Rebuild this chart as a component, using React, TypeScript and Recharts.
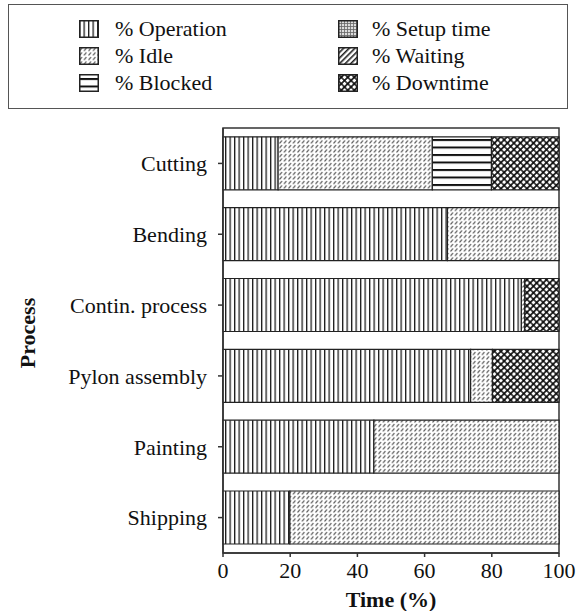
import { BarChart, Bar, XAxis, YAxis, ReferenceArea } from 'recharts';

const processes = ['Cutting', 'Bending', 'Contin. process', 'Pylon assembly', 'Painting', 'Shipping'];
const operation = [16.4, 66.8, 88.8, 73.7, 44.9, 19.9];
const setupTime = [0, 0, 0, 0, 0, 0];
const idle = [45.9, 33.2, 1.0, 6.5, 55.1, 80.1];
const waiting = [0, 0, 0, 0, 0, 0];
const blocked = [17.6, 0, 0, 0, 0, 0];
const downtime = [20.1, 0, 10.2, 19.8, 0, 0];
const timeTicks = [0, 20, 40, 60, 80, 100];

const data = processes.map((name, i) => ({
  name,
  operation: operation[i],
  setup: setupTime[i],
  idle: idle[i],
  waiting: waiting[i],
  blocked: blocked[i],
  downtime: downtime[i],
}));

// legend is laid out row by row: left column then right column
const series = [
  { key: 'operation', label: '% Operation', fill: 'url(#pOp)' },
  { key: 'setup', label: '% Setup time', fill: 'url(#pSetup)' },
  { key: 'idle', label: '% Idle', fill: 'url(#pIdle)' },
  { key: 'waiting', label: '% Waiting', fill: 'url(#pWait)' },
  { key: 'blocked', label: '% Blocked', fill: 'url(#pBlk)' },
  { key: 'downtime', label: '% Downtime', fill: 'url(#pDown)' },
];
const stackOrder = ['operation', 'setup', 'idle', 'waiting', 'blocked', 'downtime'];

const font = 'Times, "Liberation Serif", Tinos, "DejaVu Serif", serif';

function Patterns() {
  return (
    <defs>
      <pattern id="pOp" width="4.5" height="10" patternUnits="userSpaceOnUse">
        <rect width="4.5" height="10" fill="#fff" />
        <rect x="0" width="1.3" height="10" fill="#1a1a1a" />
      </pattern>
      <pattern id="pIdle" width="4.5" height="4.5" patternUnits="userSpaceOnUse">
        <rect width="4.5" height="4.5" fill="#fff" />
        <line x1="0.5" y1="4" x2="3" y2="1" stroke="#3a3a3a" strokeWidth="1" />
      </pattern>
      <pattern id="pBlk" width="10" height="7.5" y="4" patternUnits="userSpaceOnUse">
        <rect width="10" height="7.5" fill="#fff" />
        <rect y="0" width="10" height="2" fill="#111" />
      </pattern>
      <pattern id="pDown" width="4.6" height="4.6" patternUnits="userSpaceOnUse" patternTransform="rotate(45)">
        <rect width="4.6" height="4.6" fill="#111" />
        <rect x="0.8" y="0.8" width="3" height="3" rx="0.8" fill="#fff" />
      </pattern>
      <pattern id="pSetup" width="3" height="3" patternUnits="userSpaceOnUse">
        <rect width="3" height="3" fill="#ddd" />
        <rect width="3" height="0.8" fill="#666" />
        <rect width="0.8" height="3" fill="#666" />
      </pattern>
      <pattern id="pWait" width="4" height="4" patternUnits="userSpaceOnUse" patternTransform="rotate(45)">
        <rect width="4" height="4" fill="#fff" />
        <rect width="1.6" height="4" fill="#222" />
      </pattern>
    </defs>
  );
}

function LegendBox() {
  const rows = [28, 55, 82];
  return (
    <div
      style={{
        position: 'absolute',
        left: 8,
        top: 4,
        width: 558,
        height: 103,
        border: '1.5px solid #555',
        fontFamily: font,
        fontSize: 22,
        color: '#111',
      }}
    >
      {series.map((s, i) => {
        const col = i % 2;
        const row = Math.floor(i / 2);
        const sx = col === 0 ? 70 : 329;
        const tx = col === 0 ? 106 : 363;
        const cy = rows[row] - 4;
        return (
          <div key={s.key}>
            <svg
              width={20}
              height={18}
              style={{ position: 'absolute', left: sx, top: cy - 9 }}
            >
              <rect x={0.75} y={0.75} width={18.5} height={16.5} fill={s.fill} stroke="#222" strokeWidth={1.5} />
            </svg>
            <span style={{ position: 'absolute', left: tx, top: cy - 13, lineHeight: '26px', whiteSpace: 'nowrap' }}>
              {s.label}
            </span>
          </div>
        );
      })}
    </div>
  );
}

export default function App() {
  return (
    <div style={{ position: 'absolute', left: 0, top: 0, width: 579, height: 611, background: '#fff' }}>
      <BarChart
        width={579}
        height={611}
        data={data}
        layout="vertical"
        margin={{ top: 128, right: 20, bottom: 0, left: 8 }}
        barCategoryGap="12.5%"
        style={{ position: 'absolute', left: 0, top: 0, fontFamily: font }}
      >
        <Patterns />
        <XAxis
          type="number"
          domain={[0, 100]}
          ticks={timeTicks}
          height={58}
          tickSize={4}
          tickMargin={5}
          tick={{ fontSize: 22, fill: '#111', fontFamily: font }}
          axisLine={{ stroke: '#333', strokeWidth: 1.5 }}
          tickLine={{ stroke: '#333', strokeWidth: 1.5 }}
          label={{ value: 'Time (%)', position: 'insideBottom', offset: 4, style: { fontSize: 22, fontWeight: 'bold', fill: '#111', fontFamily: font } }}
        />
        <YAxis
          type="category"
          dataKey="name"
          width={215}
          tickSize={5}
          tickMargin={11}
          tick={{ fontSize: 22, fill: '#111', fontFamily: font }}
          axisLine={{ stroke: '#333', strokeWidth: 1.5 }}
          tickLine={{ stroke: '#333', strokeWidth: 1.5 }}
          label={{
            content: () => (
              <text
                x={27}
                y={333}
                transform="rotate(-90 27 333)"
                textAnchor="middle"
                dominantBaseline="central"
                style={{ fontSize: 22, fontWeight: 'bold', fill: '#111', fontFamily: font }}
              >
                Process
              </text>
            ),
          }}
        />
        {stackOrder.map((k) => {
          const s = series.find((x) => x.key === k)!;
          return (
            <Bar
              key={k}
              dataKey={k}
              name={s.label}
              stackId="t"
              fill={s.fill}
              stroke="#222"
              strokeWidth={1.2}
              isAnimationActive={false}
            />
          );
        })}
        <ReferenceArea x1={0} x2={100} fill="none" stroke="#333" strokeWidth={1.5} ifOverflow="visible" />
      </BarChart>
      <LegendBox />
    </div>
  );
}
